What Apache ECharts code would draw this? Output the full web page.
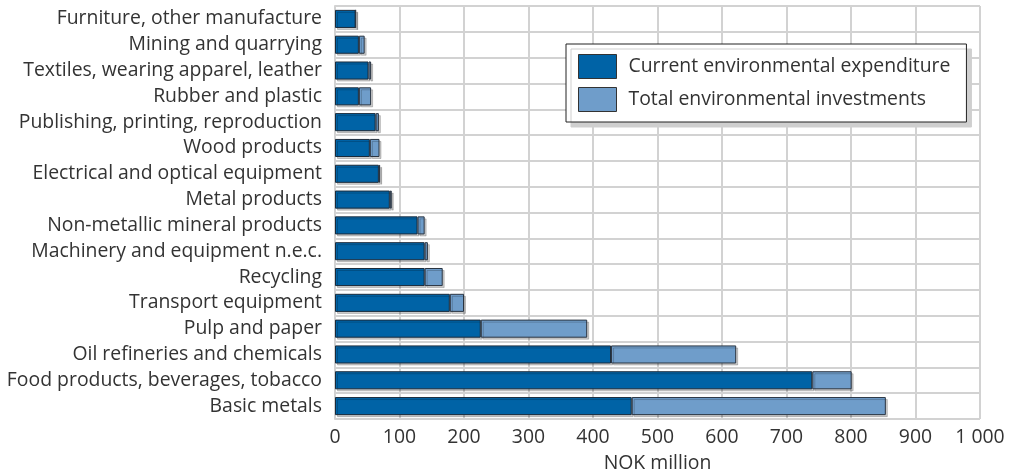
<!DOCTYPE html>
<html><head><meta charset="utf-8">
<script src="https://cdn.jsdelivr.net/npm/echarts@6/dist/echarts.min.js"></script>
<style>html,body{margin:0;padding:0;background:#fff}#c{width:1009px;height:471px}</style>
</head><body><div id="c"></div>
<script>
const categories = [
  "Furniture, other manufacture",
  "Mining and quarrying",
  "Textiles, wearing apparel, leather",
  "Rubber and plastic",
  "Publishing, printing, reproduction",
  "Wood products",
  "Electrical and optical equipment",
  "Metal products",
  "Non-metallic mineral products",
  "Machinery and equipment n.e.c.",
  "Recycling",
  "Transport equipment",
  "Pulp and paper",
  "Oil refineries and chemicals",
  "Food products, beverages, tobacco",
  "Basic metals"
];
const currentExpenditure = [32, 37, 52, 37, 63, 54, 68, 85, 128, 139, 139, 178, 226, 428, 740, 460];
const totalInvestments   = [0, 9, 4, 19, 5, 15, 2, 3, 11, 5, 28, 22, 165, 194, 61, 394];
const xTicks = [0, 100, 200, 300, 400, 500, 600, 700, 800, 900, 1000];

const font = "'Open Sans', 'Noto Sans', sans-serif";
const fs = 19.4;
const chart = echarts.init(document.getElementById('c'), null, {renderer: 'canvas'});
chart.setOption({
  animation: false,
  grid: {left: 335, right: 29, top: 6, bottom: 52, containLabel: false, outerBoundsMode: 'none'},
  legend: {
    left: 566, top: 44, orient: 'vertical',
    backgroundColor: '#fff', borderColor: '#222', borderWidth: 1,
    padding: [10, 16, 10, 12], itemGap: 8,
    itemWidth: 38, itemHeight: 24, icon: 'rect',
    itemStyle: {borderColor: '#333', borderWidth: 1},
    shadowColor: '#cfcfcf', shadowOffsetX: 5, shadowOffsetY: 5, shadowBlur: 0,
    textStyle: {fontFamily: font, fontSize: fs, color: '#333', padding: [0, 0, 0, 7]},
    data: ['Current environmental expenditure', 'Total environmental investments']
  },
  xAxis: {
    type: 'value', min: xTicks[0], max: xTicks[xTicks.length - 1], interval: 100,
    name: 'NOK million', nameLocation: 'middle', nameGap: 35,
    nameTextStyle: {fontFamily: font, fontSize: fs, color: '#333'},
    axisLine: {show: false}, axisTick: {show: false},
    axisLabel: {fontFamily: font, fontSize: fs, color: '#333', margin: 9,
      formatter: v => v >= 1000 ? String(v).replace(/\B(?=(\d{3})+(?!\d))/g, ' ') : String(v)},
    splitLine: {show: true, lineStyle: {color: '#d2d2d2', width: 2}}
  },
  yAxis: {
    type: 'category', data: categories, inverse: true,
    axisLine: {show: true, lineStyle: {color: '#d2d2d2', width: 2}},
    axisTick: {show: false},
    axisLabel: {fontFamily: font, fontSize: fs, color: '#333', margin: 13},
    splitLine: {show: true, lineStyle: {color: '#d2d2d2', width: 2}}
  },
  series: [
    {name: 'Current environmental expenditure', type: 'bar', stack: 't', data: currentExpenditure,
     barWidth: '70%',
     itemStyle: {color: '#0063a6', borderColor: '#1a2a3a', borderWidth: 1,
       shadowColor: 'rgba(0,0,0,0.2)', shadowOffsetX: 2, shadowOffsetY: 2}},
    {name: 'Total environmental investments', type: 'bar', stack: 't', data: totalInvestments,
     barWidth: '70%',
     itemStyle: {color: '#6f9dca', borderColor: '#2a3440', borderWidth: 1,
       shadowColor: 'rgba(0,0,0,0.2)', shadowOffsetX: 2, shadowOffsetY: 2}}
  ]
});
</script></body></html>
